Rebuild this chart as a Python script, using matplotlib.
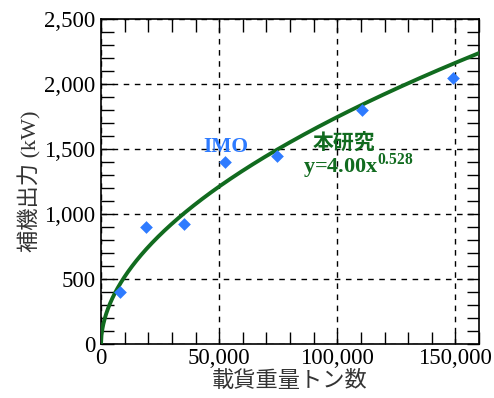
import numpy as np
import matplotlib
matplotlib.use("Agg")
import matplotlib.pyplot as plt
from matplotlib.ticker import MultipleLocator, FuncFormatter

# IMO reference points: deadweight tonnage vs auxiliary engine output
dwt = [8000, 19000, 35000, 52500, 74500, 110500, 149000]
aux_kw = [400, 900, 920, 1400, 1450, 1800, 2050]

# Fitted power law from this study: y = a * x^b
coef_a = 4.00
coef_b = 0.528

x_ticks = [0, 50000, 100000, 150000]
y_ticks = [0, 500, 1000, 1500, 2000, 2500]

serif = ["Liberation Serif", "Noto Sans CJK JP"]
plt.rcParams["font.family"] = serif
plt.rcParams["mathtext.fontset"] = "custom"
plt.rcParams["mathtext.rm"] = "Liberation Serif"
plt.rcParams["mathtext.bf"] = "Liberation Serif:bold"

fig = plt.figure(figsize=(4.94, 3.98), dpi=100)
ax = fig.add_axes([101 / 494, 1 - 344 / 398, 378 / 494, 325 / 398])

xs = np.linspace(0, 160000, 800)
ax.plot(xs, coef_a * xs ** coef_b, color="#116b1f", lw=2.8, zorder=3)
ax.scatter(dwt, aux_kw, marker="D", s=42, color="#2e7bff", zorder=4, linewidths=0)

ax.set_xlim(0, 160000)
ax.set_ylim(0, 2500)
ax.set_xticks(x_ticks)
ax.set_yticks(y_ticks)
ax.xaxis.set_minor_locator(MultipleLocator(10000))
ax.yaxis.set_minor_locator(MultipleLocator(100))
fmt = FuncFormatter(lambda v, p: f"{int(v):,}")
ax.xaxis.set_major_formatter(fmt)
ax.yaxis.set_major_formatter(fmt)

ax.grid(True, which="major", color="black", linestyle=(0, (4, 4)), lw=1.0)
ax.tick_params(which="both", direction="in", top=True, right=True,
               labelsize=16.5, colors="black", width=1.0, length=9)
ax.tick_params(axis="x", which="major", pad=3)
ax.tick_params(axis="y", which="major", pad=4)
for s in ax.spines.values():
    s.set_linewidth(1.2)

ax.set_xlabel("載貨重量トン数", fontsize=16, family=serif, labelpad=1, color="#333333")
ax.set_ylabel("補機出力 (kW)", fontsize=16, family=serif, labelpad=2, color="#333333")

ax.text(52700, 1515, "IMO", color="#2e7bff", fontsize=15.5, fontweight="bold",
        ha="center", va="center")
ax.text(103000, 1550, "本研究", color="#116b1f", fontsize=15, fontweight="bold",
        ha="center", va="center", family=["Noto Sans CJK JP"])
ax.text(85500, 1370, r"y=4.00x$^{\mathbf{0.528}}$", color="#116b1f", fontsize=16,
        fontweight="bold", ha="left", va="center")

fig.savefig("out.png", dpi=100)
